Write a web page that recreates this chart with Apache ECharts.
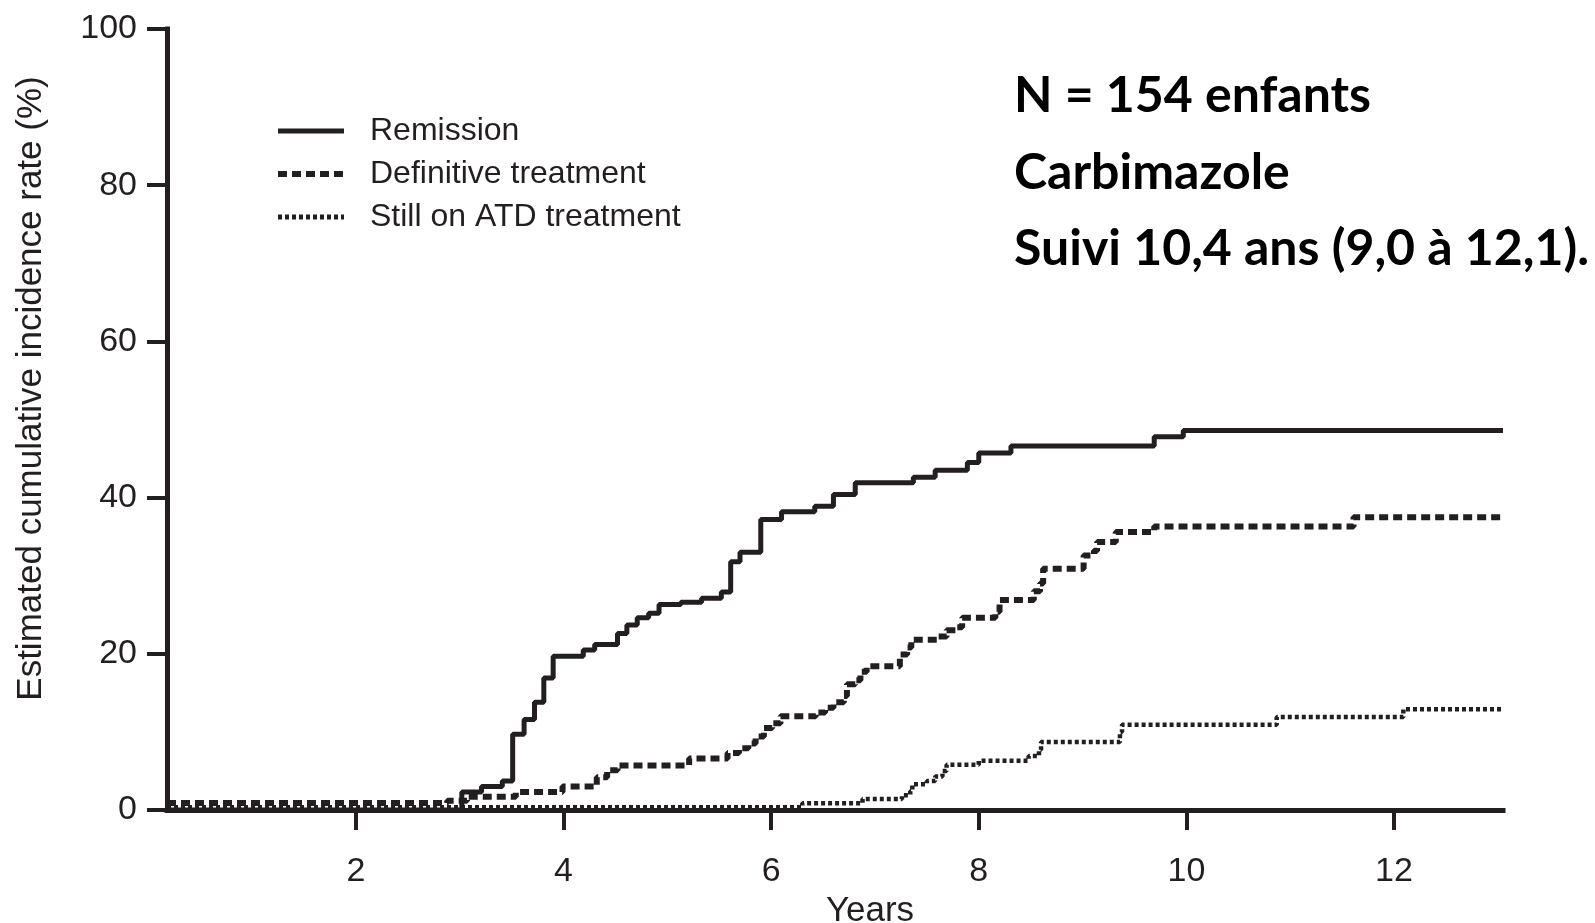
<!DOCTYPE html>
<html>
<head>
<meta charset="utf-8">
<title>Cumulative incidence</title>
<script src="https://cdn.jsdelivr.net/npm/echarts@6/dist/echarts.min.js"></script>
<style>
  html, body { margin: 0; padding: 0; background: #fff; }
  #main { width: 1595px; height: 923px; }
</style>
</head>
<body>
<div id="main"></div>
<script>
// values (years / %)
var remissionYears = [0.18, 3.02, 3.21, 3.41, 3.51, 3.62, 3.72, 3.81, 3.90, 4.19, 4.30, 4.52, 4.61, 4.71, 4.82, 4.92, 5.13, 5.33, 5.52, 5.61, 5.70, 5.90, 6.10, 6.42, 6.60, 6.81, 7.37, 7.58, 7.89, 8.00, 8.31, 9.69, 9.97, 13.05]
var remissionRates = [0, 2.3, 3.0, 3.7, 9.7, 11.6, 13.8, 16.9, 19.7, 20.5, 21.2, 22.6, 23.7, 24.6, 25.2, 26.3, 26.6, 27.1, 27.9, 31.8, 33.0, 37.2, 38.2, 38.9, 40.4, 41.9, 42.6, 43.5, 44.5, 45.7, 46.6, 47.8, 48.6, 48.6]

var definitiveYears = [0.18, 2.88, 3.07, 3.54, 3.99, 4.32, 4.42, 4.52, 5.21, 5.58, 5.69, 5.78, 5.85, 5.93, 6.01, 6.09, 6.43, 6.52, 6.60, 6.70, 6.73, 6.81, 6.86, 6.92, 7.24, 7.31, 7.35, 7.60, 7.69, 7.79, 7.84, 8.16, 8.20, 8.53, 8.59, 8.62, 9.01, 9.11, 9.14, 9.32, 9.69, 11.61, 13.05]
var definitiveRates = [0.9, 1.2, 1.7, 2.3, 3.0, 4.2, 5.1, 5.7, 6.6, 7.3, 7.9, 8.5, 9.4, 10.5, 11.1, 12.0, 12.5, 13.1, 13.8, 14.6, 16.1, 16.6, 17.7, 18.4, 19.9, 20.8, 21.8, 22.2, 23.0, 23.4, 24.6, 25.4, 26.9, 28.0, 29.0, 30.9, 32.6, 33.2, 34.3, 35.6, 36.3, 37.5, 37.5]

var atdYears = [0.18, 6.30, 6.88, 7.26, 7.34, 7.36, 7.50, 7.58, 7.65, 7.69, 8.00, 8.48, 8.58, 8.60, 9.36, 9.38, 10.87, 12.09, 13.05]
var atdRates = [0.35, 0.85, 1.4, 1.9, 2.4, 3.3, 3.7, 4.3, 5.0, 5.8, 6.3, 6.9, 7.7, 8.7, 10.0, 10.9, 11.9, 12.9, 12.9]

var xTicks = [2, 4, 6, 8, 10, 12]
var infoLines = ['N = 154 enfants', 'Carbimazole', 'Suivi 10,4 ans (9,0 à 12,1).']

var ink = '#231f20'
var font = 'Liberation Sans'

function pairs (xs, ys) {
  return xs.map(function (x, i) { return [x, ys[i]] })
}

var chart = echarts.init(document.getElementById('main'))
var noMarker = { opacity: 0 }
var option = {
  animation: false,
  backgroundColor: '#fff',
  title: {
    text: infoLines.join('\n'),
    left: 1014,
    top: 58,
    padding: 0,
    textStyle: { fontFamily: 'Lato', fontWeight: 'bold', fontSize: 50, lineHeight: 76.5, color: '#000' }
  },
  legend: {
    orient: 'vertical',
    left: 270,
    top: 110,
    itemWidth: 66,
    itemHeight: 20,
    itemGap: 11,
    textStyle: { fontFamily: font, fontSize: 32, color: ink, lineHeight: 32, padding: [0, 0, 0, 21] },
    data: [
      { name: 'Remission', itemStyle: noMarker, lineStyle: { width: 5 } },
      { name: 'Definitive treatment', itemStyle: noMarker, lineStyle: { width: 6, type: [9, 5] } },
      { name: 'Still on ATD treatment', itemStyle: noMarker, lineStyle: { width: 5, type: [4, 3] } }
    ]
  },
  grid: { left: 167, right: 92, top: 29, bottom: 113, outerBoundsMode: 'none' },
  xAxis: {
    type: 'value',
    min: 0.18,
    max: 13.05,
    name: 'Years',
    nameLocation: 'middle',
    nameGap: 77,
    nameTextStyle: { fontFamily: font, fontSize: 35, color: ink, padding: [0, 0, 0, 70] },
    axisLine: { lineStyle: { color: ink, width: 5, cap: 'square' } },
    axisTick: { show: true, length: 20, customValues: xTicks, lineStyle: { color: ink, width: 4 } },
    axisLabel: { customValues: xTicks, margin: 45, fontFamily: font, fontSize: 34, color: ink },
    splitLine: { show: false }
  },
  yAxis: {
    type: 'value',
    min: 0,
    max: 100,
    interval: 20,
    name: 'Estimated cumulative incidence rate (%)',
    nameLocation: 'middle',
    nameGap: 118,
    nameTextStyle: { fontFamily: font, fontSize: 35, color: ink, padding: [0, 0, 0, 62] },
    axisLine: { show: true, lineStyle: { color: ink, width: 5, cap: 'square' } },
    axisTick: { show: true, length: 20, lineStyle: { color: ink, width: 4 } },
    axisLabel: { margin: 30, fontFamily: font, fontSize: 34, color: ink },
    splitLine: { show: false }
  },
  series: [
    {
      name: 'Remission',
      type: 'line',
      step: 'end',
      symbol: 'none',
      z: 2,
      lineStyle: { color: ink, width: 5 },
      itemStyle: { color: ink },
      data: pairs(remissionYears, remissionRates)
    },
    {
      name: 'Definitive treatment',
      type: 'line',
      step: 'end',
      symbol: 'none',
      z: 3,
      lineStyle: { color: ink, width: 6, type: [9, 5] },
      itemStyle: { color: ink },
      data: pairs(definitiveYears, definitiveRates)
    },
    {
      name: 'Still on ATD treatment',
      type: 'line',
      step: 'end',
      symbol: 'none',
      z: 4,
      lineStyle: { color: ink, width: 4.5, type: [4, 3] },
      itemStyle: { color: ink },
      data: pairs(atdYears, atdRates)
    }
  ]
}
chart.setOption(option)
</script>
</body>
</html>
